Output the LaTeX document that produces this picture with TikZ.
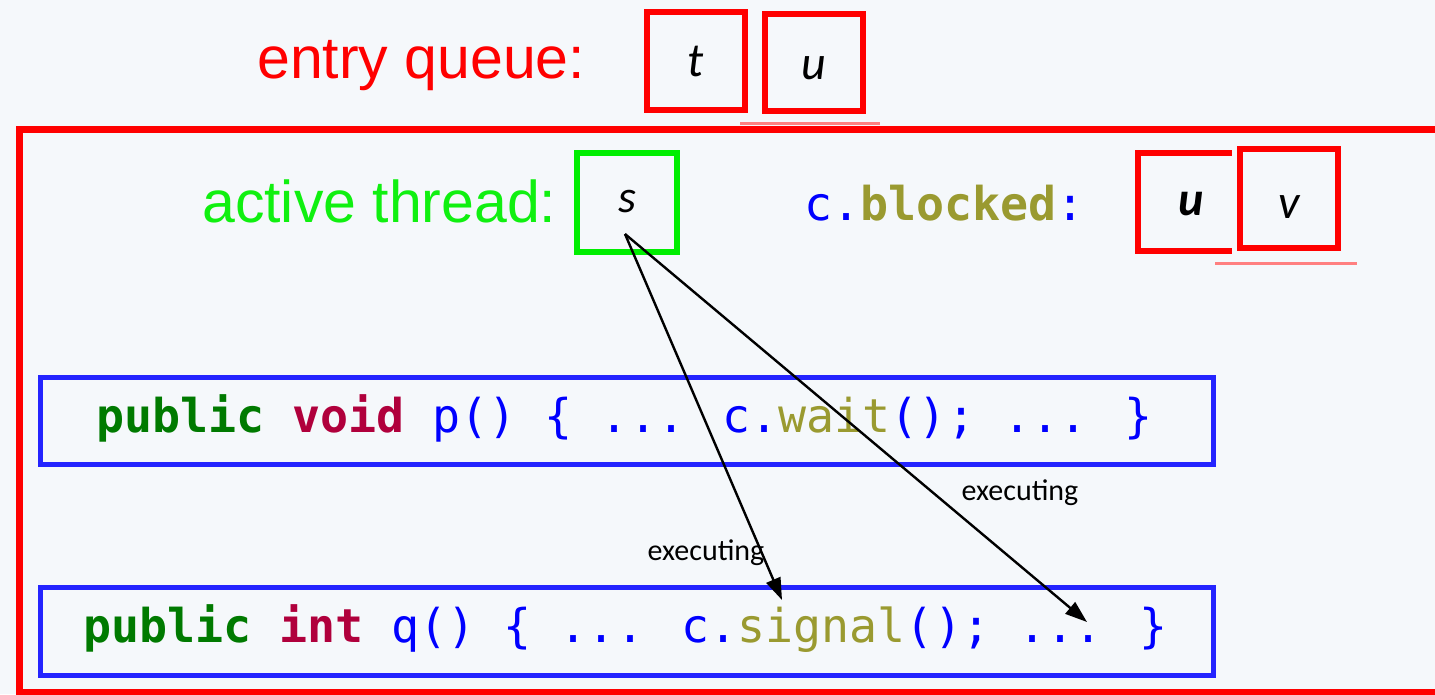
\documentclass[tikz,border=0pt]{standalone}
\usepackage{fontspec}
\setmainfont{Liberation Sans}
\newfontfamily\codefont{DejaVu Sans Mono}
\newfontfamily\calfont{Carlito}
\usetikzlibrary{arrows.meta}

\definecolor{bg}{HTML}{F5F8FB}
\definecolor{mred}{HTML}{FF0000}
\definecolor{softred}{HTML}{FF8080}
\definecolor{mgreen}{HTML}{10F010}
\definecolor{boxgreen}{HTML}{00EE00}
\definecolor{kwgreen}{HTML}{007A00}
\definecolor{kwred}{HTML}{B0003C}
\definecolor{cblue}{HTML}{0000FF}
\definecolor{boxblue}{HTML}{2424FF}
\definecolor{olive}{HTML}{9A9A30}

\tikzset{
  qbox/.style={draw=mred, line width=6pt, inner sep=0pt, outer sep=0pt,
    minimum width=98pt, minimum height=98pt, text depth=0pt,
    font=\calfont\itshape\fontsize{48}{50}\selectfont},
  activebox/.style={qbox, draw=boxgreen},
  codebox/.style={draw=boxblue, line width=5pt, inner sep=0pt, outer sep=0pt,
    minimum width=1173pt},
  codeline/.style={anchor=base west, inner sep=0pt, outer sep=0pt,
    font=\codefont\fontsize{46.6}{50}\selectfont},
  bigtext/.style={anchor=base west, inner sep=0pt,
    font=\fontsize{59}{61}\selectfont},
  flow/.style={draw=black, line width=2.4pt,
    -{Triangle[length=22pt,width=15pt]}},
  flowlabel/.style={font=\calfont\fontsize{30}{32}\selectfont, inner sep=0pt},
  underline/.style={draw=softred, line width=3pt}
}

\newcommand{\kw}[2]{\textcolor{#1}{\bfseries #2}}

\begin{document}
\begin{tikzpicture}[x=1pt,y=-1pt]
  % canvas
  \useasboundingbox (0,0) rectangle (1435,694);
  \fill[bg] (0,0) rectangle (1435,694);
  \clip (0,0) rectangle (1435,694);

  % entry queue
  \node[bigtext, text=mred] (eqlabel) at (257,78) {entry queue:};
  \node[qbox, text height=31pt] (t) at (696,60.5) {t};
  \node[qbox, text height=33pt, minimum height=97pt] (u) at (814,62.5) {u};
  \draw[underline] (740,123) -- (880,123);

  % monitor frame
  \draw[mred, line width=7pt] (1445,129) -- (19,129) -- (19,692) -- (1445,692);

  % active thread
  \node[bigtext, text=mgreen] (atlabel) at (202,222) {active thread:};
  \node[activebox, minimum width=100pt, minimum height=99pt,
        font=\calfont\itshape\fontsize{46}{48}\selectfont, text height=19pt]
        (s) at (627,202.5) {s};

  % condition queue
  \node[codeline] (cblocked) at (804,220)
    {\textcolor{cblue}{c.}\kw{olive}{blocked}\textcolor{cblue}{:}};
  \node[qbox, minimum width=107pt, text height=26pt, font=\calfont\itshape\bfseries\fontsize{48}{50}\selectfont]
        (ub) at (1191.5,202) {u};
  \node[qbox, minimum height=99pt, text height=39pt,
        preaction={draw=bg, line width=16pt}, fill=bg]
        (v) at (1289,198.5) {v};
  \draw[underline] (1215,263) -- (1357,263);

  % methods
  \node[codebox, minimum height=87pt] (pbox) at (626.5,420.5) {};
  \node[codeline] (pcode) at (96,432)
    {\kw{kwgreen}{public} \kw{kwred}{void} \textcolor{cblue}{p() \{ ... c.}\textcolor{olive}{wait}\textcolor{cblue}{(); ... \}}};
  \node[codebox, minimum height=88pt] (qboxnode) at (626.5,631) {};
  \node[codeline] (qcode) at (83,642)
    {\kw{kwgreen}{public} \kw{kwred}{int} \textcolor{cblue}{q() \{ ... c.}\textcolor{olive}{signal}\textcolor{cblue}{(); ... \}}};

  % execution arrows
  \coordinate (src) at (625,234);
  \coordinate (tipsignal) at (782,600);
  \coordinate (tipend) at (1087,622);
  \draw[flow] (src) -- (tipsignal);
  \draw[flow] (src) -- (tipend);
  \node[flowlabel] (exec1) at (706,553) {executing};
  \node[flowlabel] (exec2) at (1020,493) {executing};
\end{tikzpicture}
\end{document}
